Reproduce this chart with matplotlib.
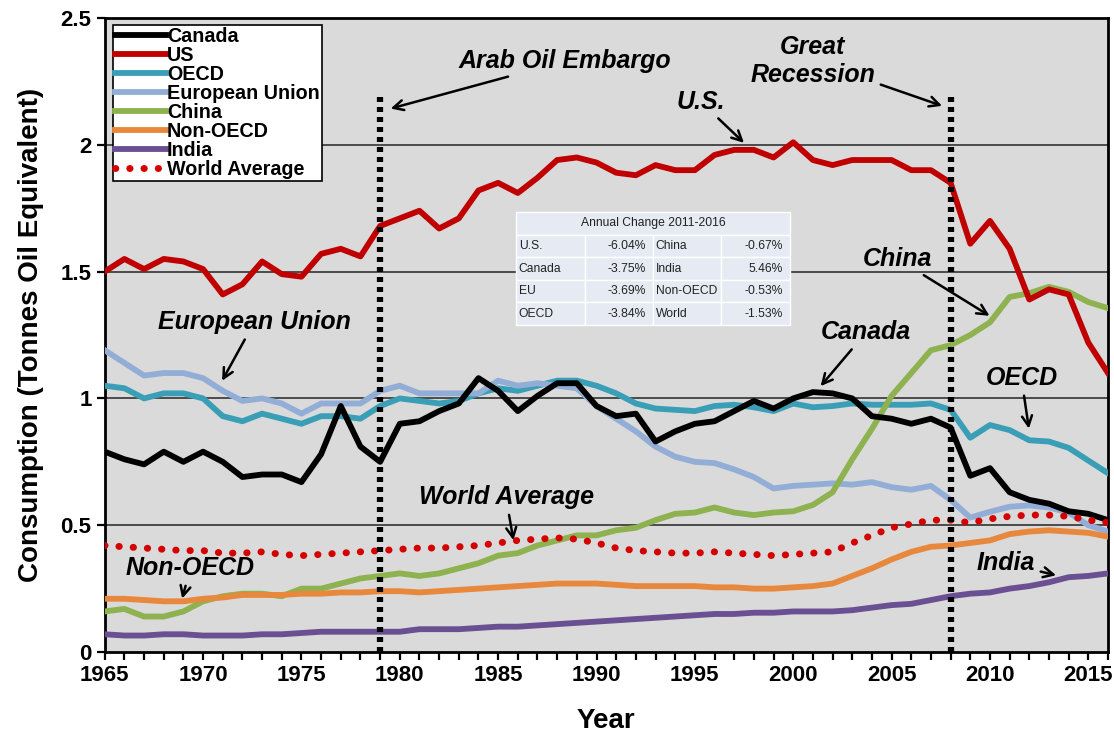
import numpy as np
import matplotlib.pyplot as plt
from matplotlib.ticker import MultipleLocator, FuncFormatter

plt.rcParams['font.family'] = ['Liberation Sans', 'DejaVu Sans']

# Data
years = np.arange(1965, 2017)

us = [1.50, 1.55, 1.51, 1.55, 1.54, 1.51, 1.41, 1.45, 1.54, 1.49,
      1.48, 1.57, 1.59, 1.56, 1.68, 1.71, 1.74, 1.67, 1.71, 1.82,
      1.85, 1.81, 1.87, 1.94, 1.95, 1.93, 1.89, 1.88, 1.92, 1.90,
      1.90, 1.96, 1.98, 1.98, 1.95, 2.01, 1.94, 1.92, 1.94, 1.94,
      1.94, 1.90, 1.90, 1.85, 1.61, 1.70, 1.59, 1.39, 1.43, 1.41,
      1.22, 1.10]
canada = [0.79, 0.76, 0.74, 0.79, 0.75, 0.79, 0.75, 0.69, 0.70, 0.70,
          0.67, 0.78, 0.97, 0.81, 0.75, 0.90, 0.91, 0.95, 0.98, 1.08,
          1.03, 0.95, 1.01, 1.06, 1.06, 0.97, 0.93, 0.94, 0.83, 0.87,
          0.90, 0.91, 0.95, 0.99, 0.96, 1.00, 1.025, 1.02, 1.00, 0.93,
          0.92, 0.90, 0.92, 0.885, 0.695, 0.725, 0.63, 0.60, 0.585, 0.555,
          0.545, 0.52]
oecd = [1.05, 1.04, 1.00, 1.02, 1.02, 1.00, 0.93, 0.91, 0.94, 0.92,
        0.90, 0.93, 0.93, 0.92, 0.97, 1.00, 0.99, 0.98, 0.99, 1.02,
        1.04, 1.03, 1.05, 1.07, 1.07, 1.05, 1.02, 0.98, 0.96, 0.955,
        0.95, 0.97, 0.975, 0.965, 0.95, 0.98, 0.965, 0.97, 0.98, 0.975,
        0.975, 0.975, 0.98, 0.955, 0.845, 0.895, 0.875, 0.835, 0.83, 0.805,
        0.755, 0.705]
eu = [1.19, 1.14, 1.09, 1.10, 1.10, 1.08, 1.03, 0.99, 1.00, 0.98,
      0.94, 0.98, 0.98, 0.98, 1.03, 1.05, 1.02, 1.02, 1.02, 1.02,
      1.07, 1.05, 1.06, 1.05, 1.04, 0.97, 0.92, 0.87, 0.81, 0.77,
      0.75, 0.745, 0.72, 0.69, 0.645, 0.655, 0.66, 0.665, 0.66, 0.67,
      0.65, 0.64, 0.655, 0.60, 0.53, 0.553, 0.573, 0.578, 0.57, 0.55,
      0.50, 0.475]
china = [0.16, 0.17, 0.14, 0.14, 0.16, 0.20, 0.22, 0.23, 0.23, 0.22,
         0.25, 0.25, 0.27, 0.29, 0.30, 0.31, 0.30, 0.31, 0.33, 0.35,
         0.38, 0.39, 0.42, 0.44, 0.46, 0.46, 0.48, 0.49, 0.52, 0.545,
         0.55, 0.57, 0.55, 0.54, 0.55, 0.555, 0.58, 0.63, 0.76, 0.88,
         1.01, 1.10, 1.19, 1.21, 1.25, 1.30, 1.40, 1.415, 1.44, 1.42,
         1.38, 1.356]
non_oecd = [0.21, 0.21, 0.205, 0.20, 0.20, 0.21, 0.215, 0.225, 0.225, 0.225,
            0.23, 0.23, 0.235, 0.235, 0.24, 0.24, 0.235, 0.24, 0.245, 0.25,
            0.255, 0.26, 0.265, 0.27, 0.27, 0.27, 0.265, 0.26, 0.26, 0.26,
            0.26, 0.255, 0.255, 0.25, 0.25, 0.255, 0.26, 0.27, 0.30, 0.33,
            0.365, 0.395, 0.415, 0.42, 0.43, 0.44, 0.465, 0.475, 0.48, 0.475,
            0.47, 0.455]
india = [0.07, 0.065, 0.065, 0.07, 0.07, 0.065, 0.065, 0.065, 0.07, 0.07,
         0.075, 0.08, 0.08, 0.08, 0.08, 0.08, 0.09, 0.09, 0.09, 0.095,
         0.10, 0.10, 0.105, 0.11, 0.115, 0.12, 0.125, 0.13, 0.135, 0.14,
         0.145, 0.15, 0.15, 0.155, 0.155, 0.16, 0.16, 0.16, 0.165, 0.175,
         0.185, 0.19, 0.205, 0.22, 0.23, 0.235, 0.25, 0.26, 0.275, 0.295,
         0.30, 0.31]
world = [0.42, 0.415, 0.41, 0.405, 0.40, 0.40, 0.39, 0.39, 0.395, 0.385,
         0.38, 0.385, 0.39, 0.395, 0.40, 0.405, 0.41, 0.41, 0.415, 0.42,
         0.43, 0.44, 0.445, 0.45, 0.445, 0.43, 0.41, 0.40, 0.395, 0.39,
         0.39, 0.395, 0.39, 0.385, 0.38, 0.385, 0.39, 0.395, 0.43, 0.46,
         0.49, 0.505, 0.52, 0.52, 0.51, 0.525, 0.535, 0.54, 0.54, 0.535,
         0.52, 0.51]

event_years = [1979, 2008]

table_title = 'Annual Change 2011-2016'
table_rows = [['U.S.', '-6.04%', 'China', '-0.67%'],
              ['Canada', '-3.75%', 'India', '5.46%'],
              ['EU', '-3.69%', 'Non-OECD', '-0.53%'],
              ['OECD', '-3.84%', 'World', '-1.53%']]

fig = plt.figure(figsize=(11.14, 7.38), dpi=100)
ax = fig.add_axes([0.094, 0.1165, 0.9006, 0.8591])
ax.set_facecolor('#dadada')

# reference lines at 0.5 steps
for y in [0.5, 1.0, 1.5, 2.0]:
    ax.axhline(y, color='#333333', lw=1.2, zorder=1)

lw = 4.2
ax.plot(years, canada, color='black', lw=lw, label='Canada', zorder=4)
ax.plot(years, us, color='#c00000', lw=lw, label='US', zorder=4)
ax.plot(years, oecd, color='#3a9fb6', lw=lw, label='OECD', zorder=3)
ax.plot(years, eu, color='#93aed6', lw=lw, label='European Union', zorder=3)
ax.plot(years, china, color='#8db24f', lw=lw, label='China', zorder=3)
ax.plot(years, non_oecd, color='#e8883c', lw=lw, label='Non-OECD', zorder=3)
ax.plot(years, india, color='#6b4f93', lw=lw, label='India', zorder=3)
ax.plot(years, world, color='#d40000', lw=5, ls=(0, (0.05, 2.0)),
        dash_capstyle='round', label='World Average', zorder=5)

for yr in event_years:
    ax.plot([yr, yr], [0, 2.21], color='black', lw=4.5, ls=(0, (0.8, 0.8)), zorder=6)

ax.set_xlim(1965, 2016)
ax.set_ylim(0, 2.5)
ax.xaxis.set_major_locator(MultipleLocator(5))
ax.xaxis.set_minor_locator(MultipleLocator(1))
ax.yaxis.set_major_locator(MultipleLocator(0.5))
ax.yaxis.set_major_formatter(FuncFormatter(lambda v, p: f'{v:g}'))
ax.tick_params(axis='both', which='major', labelsize=16, width=1.6, length=6,
               direction='out')
ax.tick_params(axis='x', which='minor', width=1.6, length=6, direction='out')
for lab in ax.get_xticklabels() + ax.get_yticklabels():
    lab.set_fontweight('bold')
for sp in ax.spines.values():
    sp.set_linewidth(2)

ax.set_xlabel('Year', fontsize=20, fontweight='bold', labelpad=16)
ax.set_ylabel('Consumption (Tonnes Oil Equivalent)', fontsize=20,
              fontweight='bold', labelpad=12)

leg = ax.legend(loc='upper left', bbox_to_anchor=(0.004, 0.995),
                prop={'weight': 'bold', 'size': 14.2}, frameon=True, fancybox=False,
                edgecolor='black', framealpha=1, handlelength=2.6,
                handletextpad=0.05, labelspacing=0.0, borderpad=0.1,
                borderaxespad=0.2)
leg.get_frame().set_linewidth(1.2)

# annotations
ann = dict(fontsize=18, fontweight='bold', fontstyle='italic', ha='center', va='center')
arrow = dict(arrowstyle='->', color='black', lw=1.8, mutation_scale=18)
ax.annotate('Arab Oil Embargo', xy=(1979.4, 2.14), xytext=(1988.4, 2.33),
            arrowprops=arrow, **ann)
ax.annotate('Great\nRecession', xy=(2007.7, 2.15), xytext=(2001.0, 2.33),
            arrowprops=arrow, linespacing=1.25, **ann)
ax.annotate('U.S.', xy=(1997.6, 2.0), xytext=(1995.3, 2.17),
            arrowprops=arrow, **ann)
ax.annotate('China', xy=(2010.1, 1.32), xytext=(2005.3, 1.55),
            arrowprops=arrow, **ann)
ax.annotate('European Union', xy=(1970.9, 1.06), xytext=(1972.6, 1.30),
            arrowprops=arrow, **ann)
ax.annotate('Canada', xy=(2001.3, 1.04), xytext=(2003.7, 1.26),
            arrowprops=arrow, **ann)
ax.annotate('OECD', xy=(2012.0, 0.87), xytext=(2011.6, 1.08),
            arrowprops=arrow, **ann)
ax.annotate('World Average', xy=(1985.8, 0.43), xytext=(1985.4, 0.61),
            arrowprops=arrow, **ann)
ax.annotate('Non-OECD', xy=(1968.9, 0.2), xytext=(1969.35, 0.33),
            arrowprops=arrow, **ann)
ax.annotate('India', xy=(2013.5, 0.3), xytext=(2012.3, 0.35),
            arrowprops=dict(arrow, shrinkA=2), ha='right', va='center',
            fontsize=18, fontweight='bold', fontstyle='italic')

# summary table
cell_bg = '#e6ebf3'
head = ax.table(cellText=[[table_title]], cellLoc='center',
                bbox=[0.41, 0.658, 0.273, 0.036], zorder=7)
body = ax.table(cellText=table_rows, cellLoc='left',
                bbox=[0.41, 0.516, 0.273, 0.142], zorder=7)
for tbl in (head, body):
    tbl.auto_set_font_size(False)
    tbl.set_fontsize(8.7)
    for (r, c), cell in tbl.get_celld().items():
        cell.set_facecolor(cell_bg)
        cell.set_edgecolor('white')
        cell.set_linewidth(1)
        cell.get_text().set_color('#222222')
for (r, c), cell in body.get_celld().items():
    cell.PAD = 0.04
    if c in (1, 3):
        cell.get_text().set_horizontalalignment('right')
        cell.PAD = 0.1

fig.savefig('out.png', dpi=100)
